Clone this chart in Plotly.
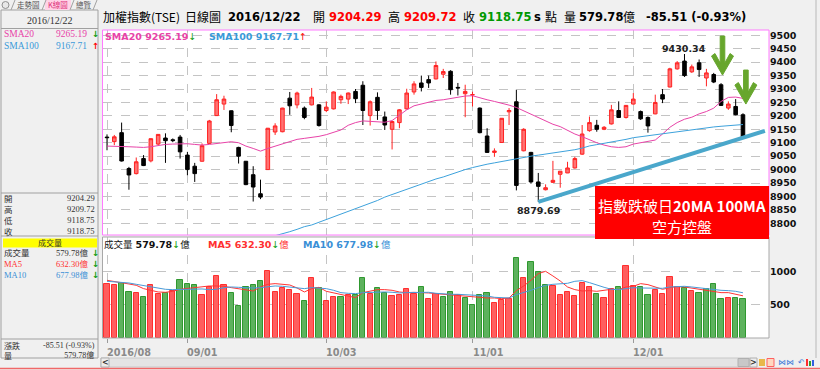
import plotly.graph_objects as go

W, H = 820, 370

# ---------------- data ----------------
tick_idx = [0, 11, 30, 50, 72]
tick_text = ["2016/08", "09/01", "10/03", "11/01", "12/01"]

opens = [9121, 9104, 9137.5, 9004, 8985, 9041, 9032.5, 9095, 9117.5, 9111,
         9121, 9054, 9012.5, 9031, 9097.5, 9201, 9244, 9219, 9082.5, 9031,
         8981, 8910, 9000, 9140, 9141, 9266, 9241, 9229, 9241, 9241,
         9220, 9226, 9260, 9262.5, 9291, 9314, 9201, 9269, 9196, 9150,
         9175, 9226, 9289, 9322.5, 9335, 9337.5, 9355, 9366, 9306, 9282.5,
         9278, 9229, 9125, 9064, 9101, 9215, 9252.5, 9070, 9064, 8954,
         8925, 8952.5, 8982.5, 8987.5, 9006, 9057.5, 9145, 9165, 9150, 9170,
         9220, 9194, 9244, 9216, 9194, 9207.5, 9279, 9307.5, 9375, 9404,
         9364, 9397.5, 9341, 9354, 9316, 9229, 9235, 9204.29]
highs = [9131, 9129, 9175, 9010, 9045, 9054, 9116, 9132, 9135, 9116,
         9129, 9066, 9025, 9097.5, 9185, 9281, 9275, 9220, 9085, 9032,
         9012.5, 8962.5, 9155, 9172.5, 9230, 9289, 9290, 9235, 9304, 9243,
         9254, 9291, 9279, 9287, 9300, 9329, 9257.5, 9287.5, 9216, 9180,
         9225, 9301, 9329, 9350, 9350, 9402.5, 9375, 9370, 9322.5, 9316,
         9290, 9231, 9154, 9079, 9192, 9229, 9297.5, 9154, 9066, 8987.5,
         8945, 9032.5, 8994, 9029, 9047.5, 9166, 9197.5, 9185, 9162, 9241,
         9254, 9240, 9285, 9220, 9198, 9279, 9300, 9379, 9404, 9430.34,
         9391, 9410, 9375, 9360, 9322, 9254, 9262.5, 9209.72]
lows = [9072, 9091, 9030, 8925, 8982, 9013, 9027, 9091, 9025, 9102,
        9041, 8979, 8954, 9030, 9095, 9200, 9222, 9139, 9022.5, 8942,
        8881, 8890, 8999, 9129, 9139, 9204, 9228, 9187.5, 9239, 9160,
        9214, 9224, 9245, 9244, 9247.5, 9166, 9164, 9185, 9147.5, 9075,
        9154, 9224, 9279, 9291, 9304, 9336, 9341, 9279, 9276, 9195,
        9235, 9135, 9062, 9047.5, 9100, 9166, 8922.5, 9068, 8947.5, 8879.69,
        8922.5, 8950, 8932.5, 8987, 9004, 9055, 9141, 9141, 9147, 9168,
        9192, 9190, 9243, 9185, 9137.5, 9206, 9247.5, 9306, 9372, 9345,
        9360, 9345, 9310, 9322, 9237, 9222.5, 9202, 9118.75]
closes = [9119, 9122, 9032, 8980, 9029, 9015, 9115, 9131, 9107.5, 9108,
          9066, 9000, 8985, 9089, 9181, 9260, 9262.5, 9164, 9050, 8944,
          8935, 8897.5, 9154, 9162.5, 9229, 9237.5, 9285, 9194, 9270, 9164,
          9232.5, 9289, 9272.5, 9285, 9264, 9220, 9252.5, 9220, 9166, 9179,
          9222.5, 9285, 9319, 9306, 9322.5, 9387.5, 9365, 9297.5, 9304, 9291,
          9279, 9137.5, 9064, 9069, 9191, 9220, 8941, 9150, 8954, 8937.5,
          8932.5, 8960, 8994, 9006, 9041, 9132.5, 9175, 9150, 9157.5, 9222.5,
          9194, 9239, 9262.5, 9189, 9162.5, 9250, 9262.5, 9375, 9397.5, 9350,
          9382.5, 9372.5, 9360, 9326, 9239, 9244, 9204.26, 9118.75]
sma20 = [9087.5, 9087.5, 9085, 9085, 9083.75, 9082.5, 9085, 9090, 9093.75, 9095,
         9096.25, 9096.25, 9093.75, 9091.25, 9093.75, 9097.5, 9101.25, 9103.75, 9100, 9087.5,
         9078.75, 9068.75, 9078.75, 9087.5, 9097.5, 9103.75, 9112.5, 9116.25, 9118.75, 9123.75,
         9130, 9137.5, 9147.5, 9165, 9175, 9181.25, 9180, 9178.75, 9176.25, 9182.5,
         9202.5, 9222.5, 9237.5, 9245, 9252.5, 9257.5, 9260, 9265, 9270, 9273.75,
         9275, 9266.25, 9260, 9253.75, 9247.5, 9240, 9231.25, 9218.75, 9203.75, 9191.25,
         9178.75, 9168.75, 9160, 9145, 9132.5, 9122.5, 9110, 9100, 9091.25, 9085,
         9082.5, 9085, 9095, 9100, 9103.75, 9110, 9132.5, 9157.5, 9175, 9187.5,
         9195, 9207.5, 9216.25, 9228.75, 9253.75, 9268.75, 9270, 9265.19]
sma100 = [None] * 20 + [
         8735, 8740, 8747.5, 8753.75, 8760, 8768.75, 8777.5, 8787.5, 8793.75, 8803.75,
         8813.75, 8822.5, 8832.5, 8843.75, 8853.75, 8863.75, 8873.75, 8885, 8897.5, 8907.5,
         8916.25, 8926.25, 8937.5, 8947.5, 8957.5, 8965, 8972.5, 8982.5, 8992.5, 9000,
         9007.5, 9015, 9020, 9025, 9030, 9035, 9042.5, 9046.25, 9050, 9053.75,
         9057.5, 9061, 9065, 9069, 9074, 9080, 9088, 9093, 9097.5, 9102.5,
         9107.5, 9112.5, 9118.75, 9122.5, 9126.25, 9130, 9133.75, 9137.5, 9142.5, 9146.25,
         9148.75, 9152.5, 9155, 9158.75, 9161.25, 9163.75, 9165, 9167.71]
volume = [805, 790, 830, 690, 670, 620, 790, 655, 680, 700,
          875, 810, 800, 640, 770, 930, 790, 670, 485, 765,
          790, 860, 1000, 690, 745, 720, 655, 555, 905, 750,
          555, 620, 610, 640, 640, 905, 665, 755, 680, 625,
          645, 740, 660, 765, 585, 655, 610, 685, 650, 600,
          495, 650, 670, 530, 575, 585, 1200, 905, 1140, 990,
          800, 780, 650, 695, 625, 820, 760, 655, 600, 730,
          760, 1075, 780, 760, 640, 720, 665, 910, 770, 750,
          700, 670, 730, 805, 585, 605, 595, 579.78]
vol_dir = list("rrggrgrrgr" "gggrrrrggg" "ggrrrrrgrg" "rrgrggrggr"
               "rrrgrrggrg" "gggrrrgrgg" "grrrrrrgrr" "grrggrrrrg"
               "rggggrgg")
ma5 = [865, 850, 830, 810, 790, 740, 715, 690, 685, 700,
       730, 745, 760, 770, 780, 780, 775, 755, 740, 730,
       705, 765, 805, 815, 805, 795, 750, 690, 740, 760,
       700, 675, 650, 630, 605, 680, 705, 725, 725, 715,
       690, 680, 685, 685, 675, 665, 655, 645, 635, 625,
       615, 605, 600, 600, 590, 600, 710, 780, 865, 965,
       1000, 930, 855, 765, 725, 705, 710, 700, 720, 730,
       725, 765, 775, 815, 800, 765, 730, 755, 770, 765,
       750, 735, 720, 700, 680, 680, 660, 632.30]
ma10 = [850, 845, 840, 825, 805, 785, 765, 745, 730, 725,
        730, 735, 740, 735, 725, 730, 755, 765, 760, 750,
        750, 755, 765, 780, 775, 765, 750, 740, 755, 750,
        740, 715, 680, 670, 665, 680, 685, 690, 690, 685,
        675, 680, 685, 690, 685, 670, 660, 655, 655, 650,
        645, 640, 630, 610, 605, 600, 650, 680, 715, 755,
        790, 805, 810, 820, 850, 860, 830, 790, 760, 730,
        725, 740, 755, 750, 750, 750, 745, 765, 775, 775,
        765, 750, 735, 720, 715, 710, 700, 677.98]
price_ticks = list(range(8800, 9501, 50))
vol_ticks = [500, 1000]
trend_x = [59, 90]
trend_y = [8879.69, 9144]
high_mark = (79, 9430.34)
low_mark = (59, 8879.69)
arrow_tips = [(84.2, 9352, 39), (87.4, 9244, 34)]

idx = list(range(len(closes)))

# ---------------- geometry ----------------
PL, PR = 103, 769
MT, MB = 30, 235
VT, VB = 237, 338
BAR_PX = 7.31
X0_PX = 107
xr = [-(X0_PX - PL) / BAR_PX, (PR - X0_PX) / BAR_PX]
PPX = 0.26857  # px per point
yr = [9500 - (MB - 35.3) / PPX, 9500 + (35.3 - MT) / PPX]
VPX = 0.0667
vr = [0, (VB - VT) / VPX]

SANS = "DejaVu Sans, Noto Sans CJK TC, sans-serif"
CJK = "Noto Sans CJK TC, DejaVu Sans, sans-serif"
SERIF = "Liberation Serif, Noto Sans CJK TC, serif"

def px(x):
    return x / W

def py(y):
    return 1 - y / H

fig = go.Figure()

# candles
fig.add_trace(go.Candlestick(
    x=idx, open=opens, high=highs, low=lows, close=closes,
    increasing=dict(line=dict(color="#FF2222", width=1), fillcolor="#FF7272"),
    decreasing=dict(line=dict(color="#000000", width=1), fillcolor="#000000"),
    whiskerwidth=0, xaxis="x", yaxis="y", hoverinfo="skip"))
fig.add_trace(go.Scatter(x=idx, y=sma20, mode="lines", line=dict(color="#E843A8", width=1),
                         xaxis="x", yaxis="y", hoverinfo="skip"))
fig.add_trace(go.Scatter(x=idx, y=sma100, mode="lines", line=dict(color="#3DA2DC", width=1),
                         xaxis="x", yaxis="y", hoverinfo="skip"))
fig.add_trace(go.Scatter(x=trend_x, y=trend_y, mode="lines", line=dict(color="#4AA7CB", width=4),
                         xaxis="x", yaxis="y", hoverinfo="skip"))

# volume
vfill = ["#FF5E5E" if d == "r" else "#5DB25D" for d in vol_dir]
vline = ["#FF2E2E" if d == "r" else "#2F982F" for d in vol_dir]
fig.add_trace(go.Bar(x=idx, y=volume, width=0.72, marker=dict(color=vfill, line=dict(color=vline, width=1)),
                     xaxis="x2", yaxis="y2", hoverinfo="skip"))
fig.add_trace(go.Scatter(x=idx, y=ma5, mode="lines", line=dict(color="#FF3535", width=1),
                         xaxis="x2", yaxis="y2", hoverinfo="skip"))
fig.add_trace(go.Scatter(x=idx, y=ma10, mode="lines", line=dict(color="#4A9BD8", width=1),
                         xaxis="x2", yaxis="y2", hoverinfo="skip"))

tickfont = dict(family=SANS, size=9.5, color="#111111", weight="bold")
grid = dict(showgrid=True, gridcolor="#C4C4C4", griddash="dash", gridwidth=1, zeroline=False)

fig.update_layout(
    width=W, height=H, margin=dict(l=0, r=0, t=0, b=0),
    paper_bgcolor="#F0F0F0", plot_bgcolor="#FFFFFF", showlegend=False,
    bargap=0,
    xaxis=dict(domain=[px(PL), px(PR)], range=xr, tickvals=tick_idx, showticklabels=False,
               ticks="", anchor="y", rangeslider=dict(visible=False), fixedrange=True, **grid),
    yaxis=dict(domain=[py(MB), py(MT)], range=yr, side="right", tickvals=price_ticks,
               tickfont=tickfont, ticks="", anchor="x", showline=False, **grid),
    xaxis2=dict(domain=[px(PL), px(PR)], range=xr, tickvals=tick_idx, showticklabels=False,
                ticks="outside", ticklen=4, tickcolor="#9A9A9A", anchor="y2", **grid),
    yaxis2=dict(domain=[py(VB), py(VT)], range=vr, side="right", tickvals=vol_ticks,
                tickfont=tickfont, ticks="", anchor="x2", showline=False, **grid),
)

shapes = []
anns = []

def rect(x0, y0, x1, y1, fill=None, line=None, lw=1, layer="above"):
    shapes.append(dict(type="rect", xref="paper", yref="paper", x0=px(x0), x1=px(x1), y0=py(y1), y1=py(y0),
                       fillcolor=fill if fill else "rgba(0,0,0,0)",
                       line=dict(color=line if line else "rgba(0,0,0,0)", width=lw if line else 0),
                       layer=layer))

def seg(x0, y0, x1, y1, color, lw=1):
    shapes.append(dict(type="line", xref="paper", yref="paper", x0=px(x0), x1=px(x1), y0=py(y0), y1=py(y1),
                       line=dict(color=color, width=lw), layer="above"))

def txt(text, x, y, size=10, color="#000000", anchor="left", family=SANS, bold=False):
    anns.append(dict(text=text, x=px(x), y=py(y), xref="paper", yref="paper", xanchor=anchor, yanchor="middle",
                     showarrow=False, borderpad=0, align=anchor if anchor != "center" else "center",
                     font=dict(size=size, color=color, family=family, weight="bold" if bold else "normal")))

# panel borders
rect(PL - 0.5, MT, PR, MB, line="#FF7BFF", lw=1)
rect(PL - 0.5, VT, PR, VB, line="#A8A8A8", lw=1)

# green arrows (anchored on data coordinates)
for tx, ty, L in arrow_tips:
    pts = [(0, 0), (-11, -19), (-7.5, -21.5), (-2.3, -12), (-2.3, -L), (2.3, -L), (2.3, -12),
           (7.5, -21.5), (11, -19)]
    path = "M " + " L ".join(f"{tx + ox / BAR_PX:.4f},{ty - oy / PPX:.3f}" for ox, oy in pts) + " Z"
    shapes.append(dict(type="path", xref="x", yref="y", path=path, fillcolor="#67A62D",
                       line=dict(color="#67A62D", width=1), layer="above"))

# red call-out box
rect(595, 186, 769, 239, fill="#FF0000")
txt("指數跌破日<b>20MA 100MA</b>", 682, 205, size=15, color="#FFFFFF", anchor="center", family=CJK)
txt("空方控盤", 682, 227, size=15, color="#FFFFFF", anchor="center", family=CJK)

# high/low marks
anns.append(dict(text="<b>%.2f</b>" % high_mark[1], x=high_mark[0], y=high_mark[1], xref="x", yref="y",
                 xanchor="center", yanchor="bottom", showarrow=False, yshift=-2,
                 font=dict(family=SANS, size=9.5, color="#222222")))
anns.append(dict(text="<b>%.2f</b>" % low_mark[1], x=low_mark[0], y=low_mark[1], xref="x", yref="y",
                 xanchor="center", yanchor="top", showarrow=False, yshift=-1,
                 font=dict(family=SANS, size=9.5, color="#222222")))

# x tick labels (left aligned at tick)
for t, s in zip(tick_idx, tick_text):
    anns.append(dict(text=s, x=t, y=py(352), xref="x2", yref="paper", xanchor="left", yanchor="middle",
                     xshift=-2, showarrow=False,
                     font=dict(family=SANS, size=9.7, color="#8A8A8A", weight="bold")))

# chart header lines
DN = '<span style="color:#0A9A0A">↓</span>'
UP = '<span style="color:#FF0000">↑</span>'
txt(f'<b>SMA20 9265.19</b>{DN}', 104, 36, size=9.5, color="#E843A8")
txt(f'<b>SMA100 9167.71</b>{UP}', 208, 36, size=9.5, color="#3A9AD9")
txt(f'成交量 <b>579.78</b>{DN}億', 103, 244, size=9.5, color="#111111")
txt(f'<b>MA5 632.30</b>{DN}億', 207, 244, size=9.5, color="#FF3030")
txt(f'<b>MA10 677.98</b>{DN}億', 302, 244, size=9.5, color="#3A8FD6")

# title line
title_parts = [
    ("加權指數(TSE)", 102, "#000000", False, CJK),
    ("日線圖", 184, "#000000", False, CJK),
    ("2016/12/22", 227, "#000000", True, SANS),
    ("開", 312, "#000000", False, CJK),
    ("9204.29", 328, "#FF0000", True, SANS),
    ("高", 387, "#000000", False, CJK),
    ("9209.72", 403, "#FF0000", True, SANS),
    ("收", 462, "#000000", False, CJK),
    ("9118.75", 478, "#009900", True, SANS),
    ("s", 533, "#000000", True, SANS),
    ("點", 544, "#000000", False, CJK),
    ("量", 563, "#000000", False, CJK),
    ("579.78", 578, "#000000", True, SANS),
    ("億", 622, "#000000", False, CJK),
    ("-85.51 (-0.93%)", 645, "#000000", True, SANS),
]
for s, x, c, b, f in title_parts:
    txt(s, x, 17, size=11.5 if f == SANS else 12, color=c, bold=b, family=f)

# ---------------- left info panel ----------------
rect(1, 10, 98, 358, line="#A0A0A0")
seg(1, 28.5, 98, 28.5, "#A0A0A0")
seg(1, 193, 98, 193, "#A0A0A0")
seg(1, 236, 98, 236, "#A0A0A0")
seg(1, 339, 98, 339, "#A0A0A0")
txt("2016/12/22", 50, 20, size=10, color="#333333", anchor="center", family=SERIF)
txt("SMA20", 3, 34, size=9.5, color="#E843A8", family=SERIF)
txt("9265.19", 88, 34, size=9.5, color="#E843A8", anchor="right", family=SERIF)
txt("↓", 95, 34, size=8.5, color="#0A9A0A", anchor="center", bold=True)
txt("SMA100", 3, 46, size=9.5, color="#3A9AD9", family=SERIF)
txt("9167.71", 88, 46, size=9.5, color="#3A9AD9", anchor="right", family=SERIF)
txt("↑", 95, 46, size=8.5, color="#FF0000", anchor="center", bold=True)

ohlc_labels = ["開", "高", "低", "收"]
ohlc_vals = ["9204.29", "9209.72", "9118.75", "9118.75"]
txt("<br>".join(ohlc_labels), 3, 214, size=8.5, color="#333333", family=CJK)
txt("<br>".join(ohlc_vals), 96, 214, size=8.5, color="#333333", anchor="right", family=SERIF)

rect(3, 238.5, 97, 247.5, fill="#FFFF00")
txt("成交量", 50, 242.5, size=8, color="#333333", anchor="center", family=CJK)
vol_rows = [("成交量", "579.78億", "#333333"), ("MA5", "632.30億", "#FF3030"), ("MA10", "677.98億", "#3A8FD6")]
txt("<br>".join(f'<span style="color:{c}">{a}</span>' for a, _, c in vol_rows), 3, 263.5,
    size=8.5, family=SERIF)
txt("<br>".join(f'<span style="color:{c}">{b}</span>' for _, b, c in vol_rows), 89, 263.5,
    size=8.5, family=SERIF, anchor="right")
txt("<br>".join("↓" for _ in vol_rows), 95, 263.5, size=8.5, color="#0A9A0A", anchor="center", bold=True)

txt("漲跌<br>量", 3, 350.5, size=8, color="#333333", family=CJK)
txt("-85.51 (-0.93%)<br>579.78億", 96, 350.5, size=8, color="#333333", anchor="right", family=SERIF)

# tabs
shapes.append(dict(type="circle", xref="paper", yref="paper", x0=px(2), x1=px(9), y0=py(8.5), y1=py(1.5),
                   line=dict(color="#909090", width=1), fillcolor="#E8E8E8"))
rect(45, 0, 71, 10, fill="#FFD3E6")
for x in [13, 44, 72, 95]:
    seg(x - 2, 10, x + 2, 0, "#A0A0A0")
txt("走勢圖", 29, 5, size=7.5, color="#555555", anchor="center", family=CJK)
txt("K線圖", 58, 5, size=7.5, color="#E0307A", anchor="center", family=CJK)
txt("總覽", 84, 5, size=7.5, color="#555555", anchor="center", family=CJK)

# right border
seg(816, 0, 816, 358, "#B8B8B8")

# bottom scroll strip
rect(101, 358, 750, 367, fill="#E4E4E4", line="#C8C8C8")
rect(101, 358, 109, 367, fill="#EDEDED", line="#B0B0B0")
txt("<", 105, 362.5, size=8, color="#333333", anchor="center", bold=True)
rect(738, 358.5, 749, 366.5, fill="#C8C8C8", line="#B0B0B0")
rect(750, 358, 757, 367, fill="#EDEDED", line="#B0B0B0")
txt(">", 753.5, 362.5, size=8, color="#333333", anchor="center", bold=True)
rect(759, 359, 765, 366, fill="#E8B84A")
rect(767, 358.5, 774, 366.5, fill="#FFD8C0", line="#FF6060")
txt("⋈⋈", 786, 362.5, size=8, color="#3A7AD8", anchor="center")
txt("↶", 801, 362.5, size=8, color="#3A7AD8", anchor="center")
rect(806, 359, 808, 366, fill="#FF3030")
rect(809, 361, 811, 366, fill="#30A030")
rect(812, 360, 814, 366, fill="#3060E0")
seg(0, 368.5, 820, 368.5, "#F06868", lw=1.5)

fig.update_layout(shapes=shapes, annotations=anns)
fig.write_html("out.html", config={"displayModeBar": False},
               post_script="document.body.style.margin='0px';document.body.style.overflow='hidden';")
